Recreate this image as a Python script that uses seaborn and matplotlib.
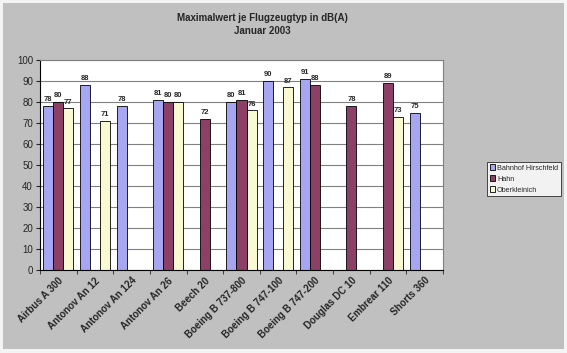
import numpy as np
import pandas as pd
import matplotlib.pyplot as plt
import seaborn as sns

# Data
aircraft = ['Airbus A 300', 'Antonov An 12', 'Antonov An 124', 'Antonov An 26',
            'Beech 20', 'Boeing B 737-800', 'Boeing B 747-100', 'Boeing B 747-200',
            'Douglas DC 10', 'Embrear 110', 'Shorts 360']
bahnhof = [78, 88, 78, 81, np.nan, 80, 90, 91, np.nan, np.nan, 75]
hahn = [80, np.nan, np.nan, 80, 72, 81, np.nan, 88, 78, 89, np.nan]
oberkleinich = [77, 71, np.nan, 80, np.nan, 76, 87, np.nan, np.nan, 73, np.nan]
stations = ['Bahnhof Hirschfeld', 'Hahn', 'Oberkleinich']
colors = ['#9999FF', '#993366', '#FFFFCC']

df = pd.DataFrame({'Flugzeug': aircraft * 3,
                   'Messstelle': sum([[s] * len(aircraft) for s in stations], []),
                   'dB': bahnhof + hahn + oberkleinich})
df = df.dropna()

sns.set_style('white')
plt.rcParams['font.family'] = ['Liberation Sans', 'DejaVu Sans']

fig = plt.figure(figsize=(5.67, 3.53), dpi=100)
fig.patch.set_facecolor('#F4F4F4')
# grey chart area
fig.add_artist(plt.Rectangle((3 / 567, 1 - 349 / 353), 561 / 567, 346 / 353,
                             transform=fig.transFigure, facecolor='#C0C0C0',
                             edgecolor='none', zorder=0))
ax = fig.add_axes([40 / 567, 1 - 270 / 353, 403 / 567, 210 / 353])

sns.barplot(data=df, x='Flugzeug', y='dB', hue='Messstelle', order=aircraft,
            hue_order=stations, palette=colors, width=0.82, dodge=True,
            edgecolor='black', linewidth=0.6, errorbar=None, ax=ax)

for cont in ax.containers:
    ax.bar_label(cont, fmt='%.0f', fontsize=5.5, fontweight='bold', padding=2)

ax.set_ylim(0, 100)
ax.set_yticks(range(0, 101, 10))
ax.set_xlim(-0.5, len(aircraft) - 0.5)
ax.yaxis.grid(True, color='#808080', linewidth=0.8)
ax.set_axisbelow(True)
ax.set_facecolor('white')
ax.set_xlabel('')
ax.set_ylabel('')
ax.set_xticks(np.arange(len(aircraft)))
ax.set_xticklabels(aircraft, rotation=45, ha='right', rotation_mode='anchor',
                   fontsize=7, fontweight='bold')
ax.tick_params(axis='y', labelsize=7, length=3, direction='out', left=True, pad=2)
ax.tick_params(axis='x', length=0, pad=4)
# minor ticks at category boundaries like Excel
ax.set_xticks(np.arange(-0.5, len(aircraft)), minor=True)
ax.tick_params(axis='x', which='minor', length=3, direction='out', bottom=True)
for s in ['top', 'right']:
    ax.spines[s].set_color('#808080')
for s in ['left', 'bottom']:
    ax.spines[s].set_color('black')
    ax.spines[s].set_linewidth(0.8)

leg = ax.legend(loc='center left', bbox_to_anchor=(487 / 567, 1 - 179 / 353),
                bbox_transform=fig.transFigure, fontsize=5.2, frameon=True,
                fancybox=False, edgecolor='black', handlelength=0.8,
                handleheight=0.8, handletextpad=0.25, borderpad=0.35,
                labelspacing=0.5, borderaxespad=0)
leg.get_frame().set_linewidth(0.6)
leg.get_frame().set_facecolor('white')

fig.text(262 / 567, 1 - 18 / 353, 'Maximalwert je Flugzeugtyp in dB(A)',
         ha='center', va='center', fontsize=7, fontweight='bold')
fig.text(262 / 567, 1 - 31 / 353, 'Januar 2003',
         ha='center', va='center', fontsize=7, fontweight='bold')

fig.savefig('out.png', dpi=100, facecolor=fig.get_facecolor())
